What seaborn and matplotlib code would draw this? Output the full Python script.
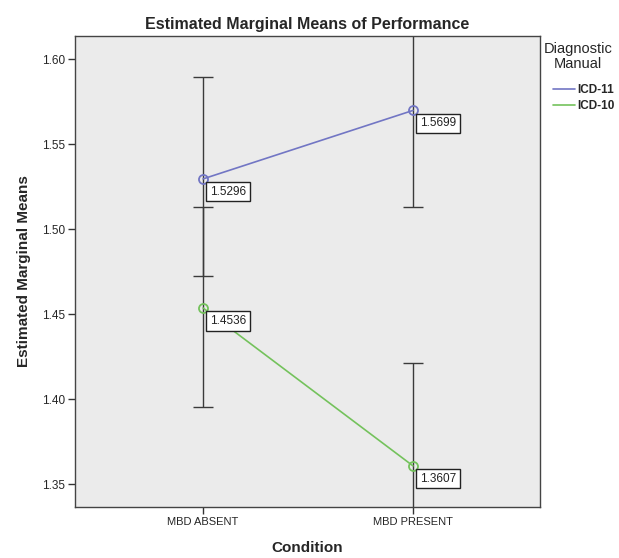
import pandas as pd
import matplotlib
matplotlib.use("Agg")
import matplotlib.pyplot as plt
import seaborn as sns

# values
conditions = ["MBD ABSENT", "MBD PRESENT"]
manuals = ["ICD-11", "ICD-10"]
icd11_mean = [1.5296, 1.5699]
icd10_mean = [1.4536, 1.3607]
icd11_lower = [1.4724, 1.5132]
icd11_upper = [1.5898, 1.6266]
icd10_lower = [1.3953, 1.3000]
icd10_upper = [1.5129, 1.4214]
yticks = [1.35, 1.40, 1.45, 1.50, 1.55, 1.60]

df = pd.DataFrame({
    "Condition": conditions * 2,
    "Manual": [manuals[0]] * 2 + [manuals[1]] * 2,
    "Mean": icd11_mean + icd10_mean,
    "Lower": icd11_lower + icd10_lower,
    "Upper": icd11_upper + icd10_upper,
})
df["x"] = df["Condition"].map({c: i for i, c in enumerate(conditions)})

sns.set_style("white")
plt.rcParams["font.family"] = ["Liberation Sans", "DejaVu Sans"]

palette = {"ICD-11": "#7276c4", "ICD-10": "#74c25c"}
bar_col = "#3a3a3a"

fig = plt.figure(figsize=(6.19, 5.58), dpi=100)
ax = fig.add_axes([0.1212, 0.0914, 0.7512, 0.8441])
ax.set_facecolor("#ebebeb")

# error bars first so the lines sit on top
for _, r in df.iterrows():
    eb = ax.errorbar(r["x"], r["Mean"],
                     yerr=[[r["Mean"] - r["Lower"]], [r["Upper"] - r["Mean"]]],
                     fmt="none", ecolor=bar_col, color=bar_col, elinewidth=1,
                     capsize=7, capthick=1, zorder=2)
    for cap in eb[1]:
        cap.set_color(bar_col)
        cap.set_markeredgecolor(bar_col)

sns.lineplot(data=df, x="x", y="Mean", hue="Manual", hue_order=manuals,
             palette=palette, marker="o", markersize=6.5, markerfacecolor="none",
             markeredgewidth=1.3, linewidth=1.2, ax=ax, zorder=3)
for line in ax.get_lines():
    if line.get_marker() == "o":
        line.set_markeredgecolor(line.get_color())

for _, r in df.iterrows():
    ax.annotate(f"{r['Mean']:.4f}", (r["x"], r["Mean"]), xytext=(5, -5),
                textcoords="offset points", ha="left", va="top", fontsize=8.5,
                color="#222222",
                bbox=dict(boxstyle="square,pad=0.3", fc="white", ec="#222222", lw=1),
                zorder=5)

ax.set_xlim(-0.61, 1.605)
ax.set_ylim(1.3365, 1.6137)
ax.set_xticks(range(len(conditions)))
ax.set_xticklabels(conditions, fontsize=8)
ax.set_yticks(yticks)
ax.set_yticklabels([f"{v:.2f}" for v in yticks], fontsize=8.5)
ax.tick_params(axis="both", direction="out", length=5, width=1, color="#333333",
               left=True, bottom=True, pad=2)
for s in ax.spines.values():
    s.set_color("#444444")
    s.set_linewidth(1)

ax.set_xlabel("Condition", fontsize=11, fontweight="bold", labelpad=10)
ax.set_ylabel("Estimated Marginal Means", fontsize=11, fontweight="bold", labelpad=8)
ax.set_title("Estimated Marginal Means of Performance", fontsize=11.5,
             fontweight="bold", pad=5)

# legend: title as separate text, like SPSS
handles, labels = ax.get_legend_handles_labels()
for h in handles:
    h.set_marker("")
fig.text(0.934, 1 - 42 / 558, "Diagnostic\nManual", ha="center", va="top",
         fontsize=10.5, linespacing=1.05)
ax.legend(handles, labels, loc="upper left",
          bbox_to_anchor=(553 / 619, 1 - 84 / 558),
          bbox_transform=fig.transFigure, frameon=False,
          prop={"size": 8.5, "weight": "bold"},
          handlelength=1.85, handletextpad=0.2, labelspacing=0.35,
          borderpad=0, borderaxespad=0)

fig.savefig("out.png", dpi=100)
